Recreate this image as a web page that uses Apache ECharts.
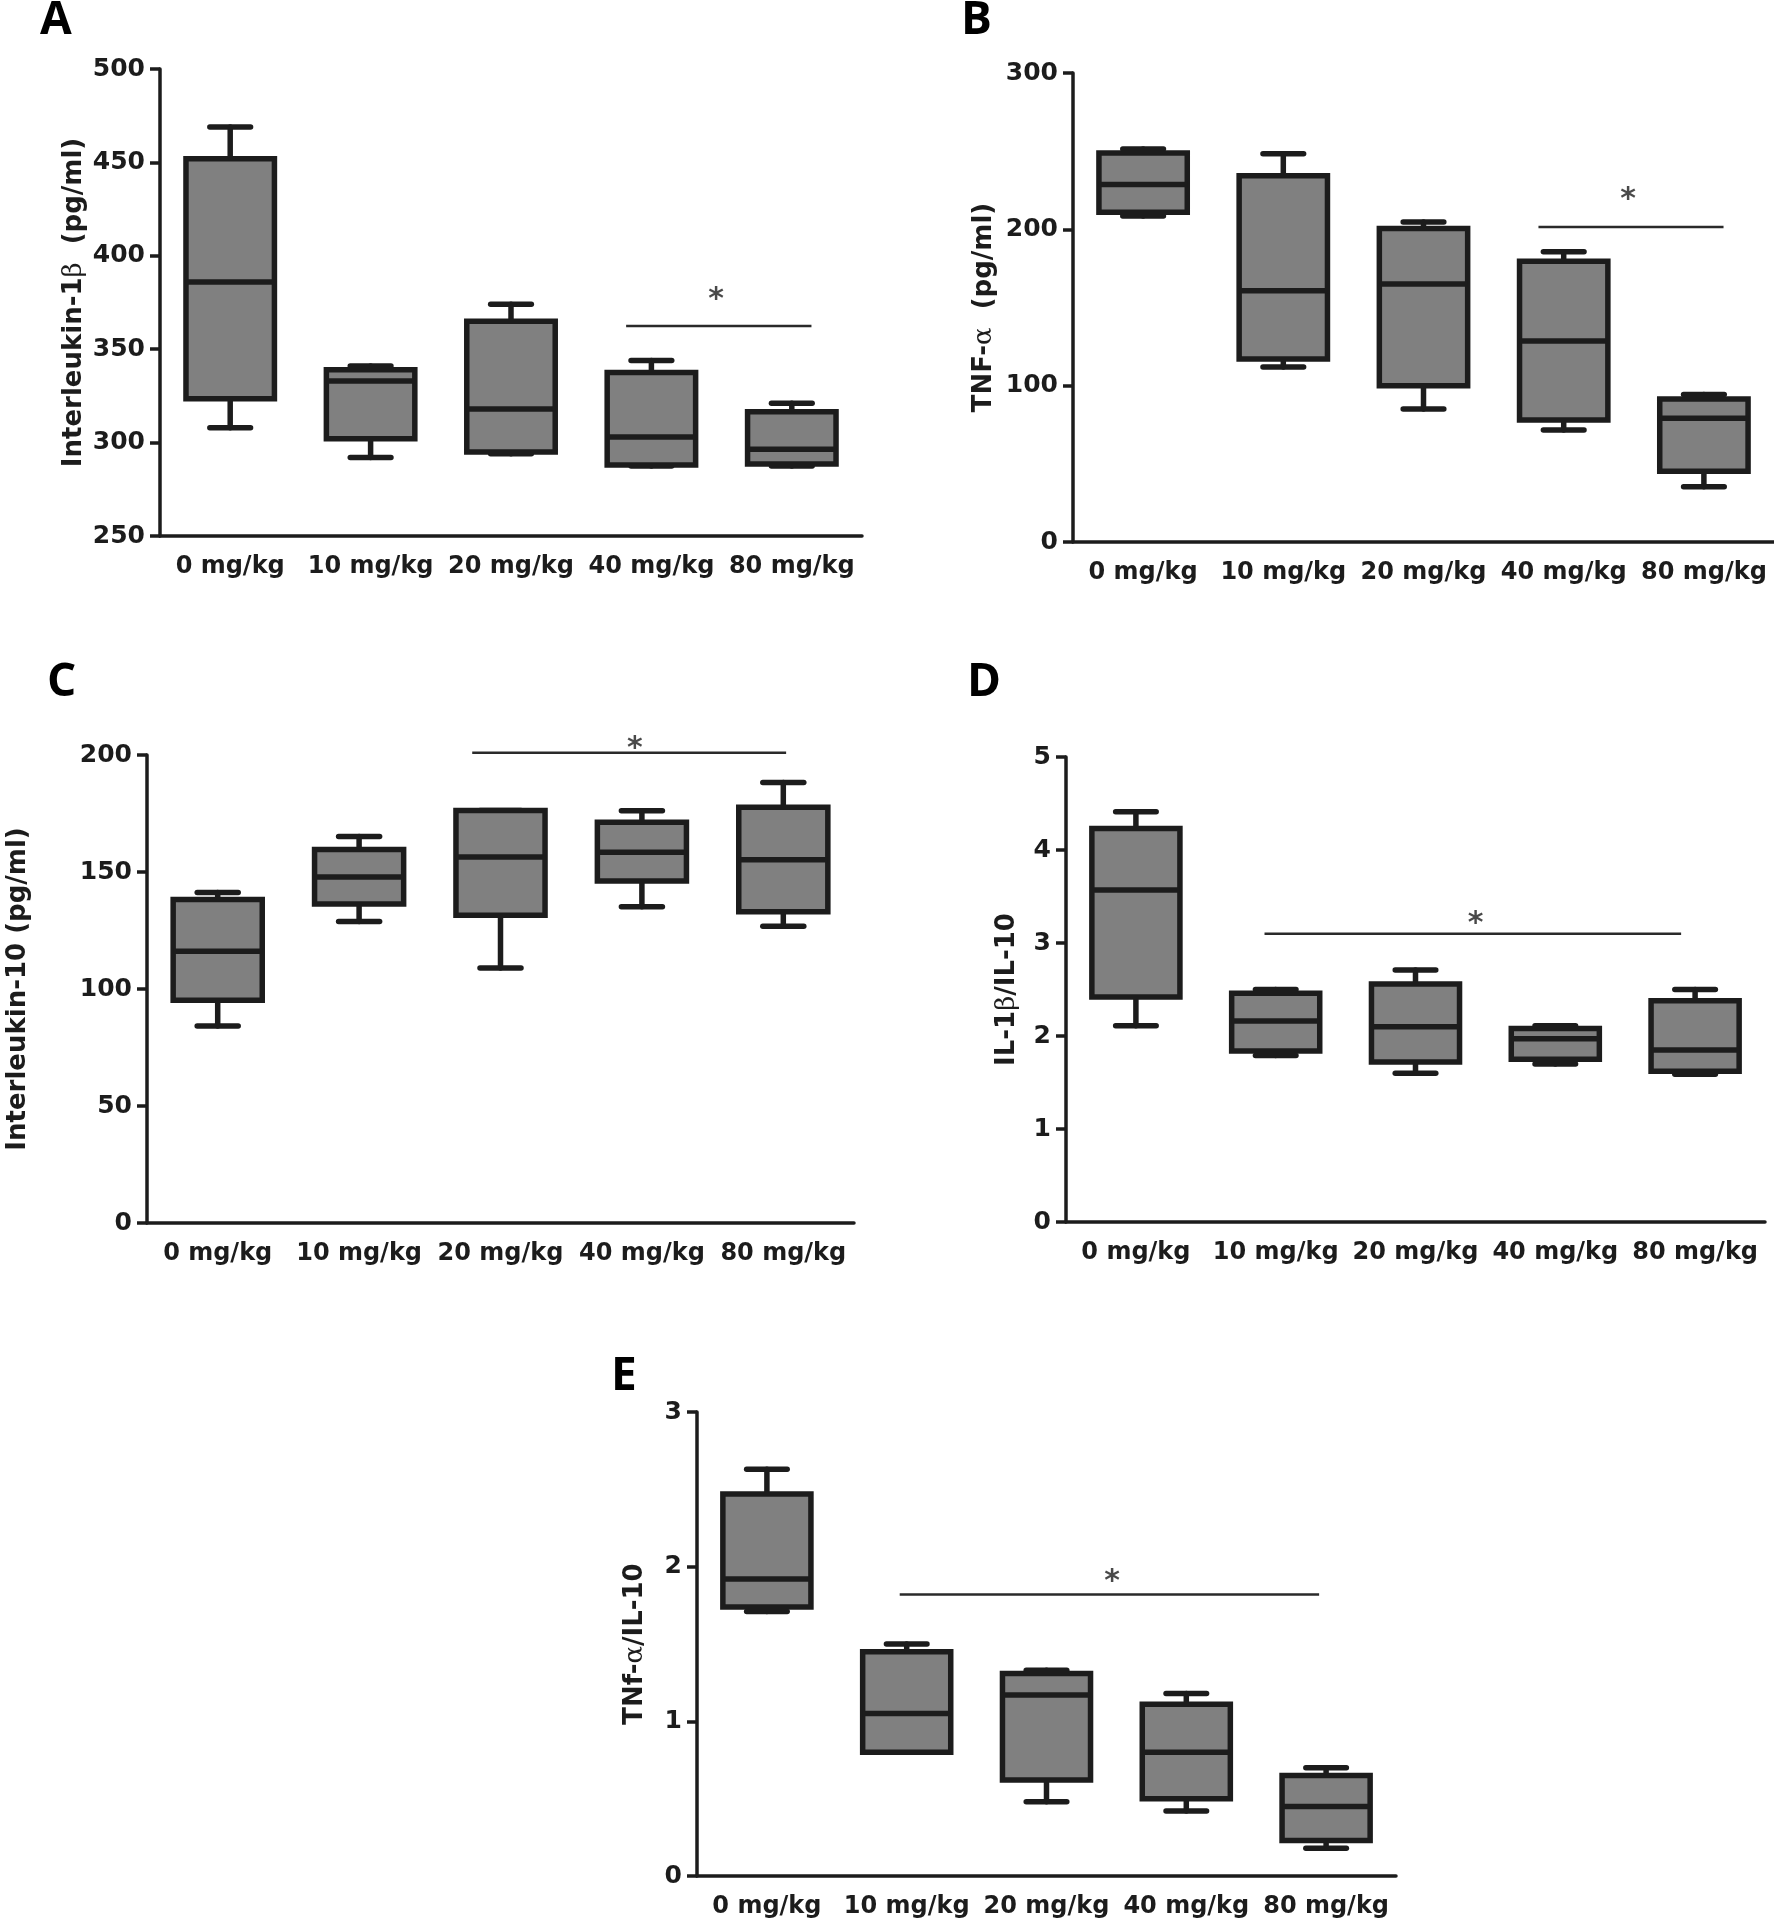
<!DOCTYPE html>
<html>
<head>
<meta charset="utf-8">
<title>Cytokine box plots</title>
<script src="https://cdn.jsdelivr.net/npm/echarts@6.0.0/dist/echarts.min.js"></script>
<style>
    html, body { margin: 0; padding: 0; background: #fff; }
    #main { width: 1774px; height: 1921px; }
</style>
</head>
<body>
<div id="main"></div>
<script>
    var categories = ['0 mg/kg', '10 mg/kg', '20 mg/kg', '40 mg/kg', '80 mg/kg'];

    // each row: [min, Q1, median, Q3, max]
    var il1bValues = [
        [308, 323.5, 386, 452, 469],
        [292, 302, 333, 339, 341],
        [294, 295, 318, 365, 374],
        [287.5, 288, 303, 337.5, 344],
        [287.5, 288.5, 296.5, 316.5, 321]
    ];
    var tnfValues = [
        [208.6, 211, 228.7, 248.9, 251.4],
        [112, 117, 160.7, 234.2, 248.4],
        [85, 100, 165, 200.5, 204.7],
        [71.7, 78, 128.5, 179.6, 185.7],
        [35.4, 45.2, 79.1, 91.4, 94.3]
    ];
    var il10Values = [
        [84.2, 95.2, 116.1, 138.3, 141.2],
        [128.8, 136.3, 147.9, 159.6, 165.2],
        [109, 131.5, 156.4, 176.3, 176.3],
        [135.2, 146.2, 158.4, 171.3, 176.2],
        [126.8, 133, 155.2, 177.7, 188.2]
    ];
    var il1bIl10Values = [
        [2.11, 2.42, 3.57, 4.23, 4.41],
        [1.79, 1.84, 2.16, 2.46, 2.50],
        [1.60, 1.72, 2.10, 2.56, 2.71],
        [1.70, 1.75, 1.97, 2.08, 2.11],
        [1.59, 1.62, 1.85, 2.38, 2.50]
    ];
    var tnfIl10Values = [
        [1.71, 1.74, 1.92, 2.47, 2.63],
        [0.80, 0.80, 1.05, 1.45, 1.50],
        [0.48, 0.62, 1.17, 1.31, 1.33],
        [0.42, 0.50, 0.80, 1.11, 1.18],
        [0.18, 0.23, 0.45, 0.65, 0.70]
    ];

    // y tick labels
    var il1bTicks = [250, 300, 350, 400, 450, 500];
    var tnfTicks = [0, 100, 200, 300];
    var il10Ticks = [0, 50, 100, 150, 200];
    var il1bIl10Ticks = [0, 1, 2, 3, 4, 5];
    var tnfIl10Ticks = [0, 1, 2, 3];

    // significance bar: [from, to, level] in category units, star: [x, y]
    var il1bSig = [2.82, 4.14, 362.4], il1bStar = [3.46, 379.5];
    var tnfSig = [2.82, 4.14, 201.5], tnfStar = [3.46, 222.6];
    var il10Sig = [1.80, 4.02, 201], il10Star = [2.95, 204.9];
    var il1bIl10Sig = [0.92, 3.90, 3.10], il1bIl10Star = [2.43, 3.27];
    var tnfIl10Sig = [0.95, 3.95, 1.82], tnfIl10Star = [2.47, 1.94];

    var ink = '#1c1c1c';
    var font = '"DejaVu Sans", sans-serif';

    var panels = [
        {letter: 'A', values: il1bValues, ticks: il1bTicks, sig: il1bSig, star: il1bStar,
            name: '{b|Interleukin-1}{g|β}{b|  (pg/ml)}', nameGap: 73,
            grid: {left: 160, top: 69, width: 702, height: 467}, letterAt: [40, 21]},
        {letter: 'B', values: tnfValues, ticks: tnfTicks, sig: tnfSig, star: tnfStar,
            name: '{b|TNF-}{g|α}{b|  (pg/ml)}', nameGap: 76,
            grid: {left: 1073, top: 73, width: 701, height: 469}, letterAt: [961, 21]},
        {letter: 'C', values: il10Values, ticks: il10Ticks, sig: il10Sig, star: il10Star,
            name: '{b|Interleukin-10 (pg/ml)}', nameGap: 116,
            grid: {left: 147, top: 755, width: 707, height: 468}, letterAt: [47, 683]},
        {letter: 'D', values: il1bIl10Values, ticks: il1bIl10Ticks, sig: il1bIl10Sig, star: il1bIl10Star,
            name: '{b|IL-1}{g|β}{b|/IL-10}', nameGap: 46,
            grid: {left: 1066, top: 757, width: 699, height: 465}, letterAt: [967, 683]},
        {letter: 'E', values: tnfIl10Values, ticks: tnfIl10Ticks, sig: tnfIl10Sig, star: tnfIl10Star,
            name: '{b|TNf-}{g|α}{b|/IL-10}', nameGap: 49,
            grid: {left: 697, top: 1412, width: 699, height: 464}, letterAt: [611, 1377]}
    ];

    //box, median, whiskers with half-width caps
    function renderBox(params, api) {
        var x = api.value(0);
        var lo = api.coord([x, api.value(1)]);
        var q1 = api.coord([x, api.value(2)]);
        var med = api.coord([x, api.value(3)]);
        var q3 = api.coord([x, api.value(4)]);
        var hi = api.coord([x, api.value(5)]);
        var band = api.size([1, 0])[0];
        var bw = band * 0.63;
        var cw = band * 0.29;
        var cx = q1[0];

        function seg(x1, y1, x2, y2) {
            return {
                type: 'line',
                shape: {x1: x1, y1: y1, x2: x2, y2: y2},
                style: {stroke: ink, lineWidth: 5.5, lineCap: 'round'}
            };
        }

        return {
            type: 'group',
            children: [
                seg(cx, hi[1], cx, q3[1]),
                seg(cx, q1[1], cx, lo[1]),
                seg(cx - cw / 2, hi[1], cx + cw / 2, hi[1]),
                seg(cx - cw / 2, lo[1], cx + cw / 2, lo[1]),
                {
                    type: 'rect',
                    shape: {x: cx - bw / 2, y: q3[1], width: bw, height: q1[1] - q3[1]},
                    style: {fill: '#808080', stroke: ink, lineWidth: 5.5}
                },
                {
                    type: 'line',
                    shape: {x1: cx - bw / 2, y1: med[1], x2: cx + bw / 2, y2: med[1]},
                    style: {stroke: ink, lineWidth: 5.5}
                }
            ]
        };
    }

    var option = {
        animation: false,
        backgroundColor: '#fff',
        textStyle: {fontFamily: font},
        graphic: [],
        grid: [],
        xAxis: [],
        yAxis: [],
        series: []
    };

    panels.forEach(function (p, i) {
        var g = p.grid;
        option.grid.push({
            left: g.left, top: g.top, width: g.width, height: g.height,
            outerBoundsMode: 'none', containLabel: false
        });
        option.xAxis.push({
            type: 'category',
            gridIndex: i,
            data: categories,
            boundaryGap: true,
            axisLine: {onZero: false, lineStyle: {color: ink, width: 3.5}},
            axisTick: {alignWithLabel: true, length: 12, lineStyle: {color: ink, width: 3.5}},
            axisLabel: {interval: 0, margin: 19, color: ink, fontSize: 24, fontWeight: 'bold', fontFamily: font},
            splitLine: {show: false}
        });
        option.xAxis.push({
            type: 'value',
            gridIndex: i,
            min: -0.5,
            max: 4.5,
            show: false
        });
        option.yAxis.push({
            type: 'value',
            gridIndex: i,
            min: p.ticks[0],
            max: p.ticks[p.ticks.length - 1],
            interval: p.ticks[1] - p.ticks[0],
            name: p.name,
            nameLocation: 'middle',
            nameRotate: 90,
            nameGap: p.nameGap,
            nameTextStyle: {
                rich: {
                    b: {fontFamily: font, fontWeight: 'bold', fontSize: 26, color: ink},
                    g: {fontFamily: '"DejaVu Serif", serif', fontWeight: 'normal', fontSize: 26, color: ink}
                }
            },
            axisLine: {show: true, onZero: false, lineStyle: {color: ink, width: 3.5}},
            axisTick: {show: true, length: 10, lineStyle: {color: ink, width: 3.5}},
            axisLabel: {margin: 15, color: ink, fontSize: 25, fontWeight: 'bold', fontFamily: font},
            splitLine: {show: false}
        });

        option.series.push({
            type: 'custom',
            xAxisIndex: 2 * i,
            yAxisIndex: i,
            renderItem: renderBox,
            encode: {x: 0, y: [1, 2, 3, 4, 5]},
            data: p.values.map(function (row, k) {
                return [k].concat(row);
            }),
            silent: true
        });
        option.series.push({
            type: 'line',
            xAxisIndex: 2 * i + 1,
            yAxisIndex: i,
            data: [[p.sig[0], p.sig[2]], [p.sig[1], p.sig[2]]],
            symbol: 'none',
            clip: false,
            silent: true,
            lineStyle: {color: '#2a2a2a', width: 2.5}
        });
        option.series.push({
            type: 'scatter',
            xAxisIndex: 2 * i + 1,
            yAxisIndex: i,
            data: [p.star],
            symbolSize: 1,
            clip: false,
            silent: true,
            itemStyle: {color: 'transparent'},
            label: {
                show: true,
                position: 'inside',
                formatter: '*',
                offset: [0, 6],
                fontSize: 30,
                fontWeight: 'bold',
                color: ink,
                fontFamily: font
            }
        });

        option.graphic.push({
            type: 'text',
            style: {
                x: p.letterAt[0],
                y: p.letterAt[1],
                text: p.letter,
                verticalAlign: 'middle',
                align: 'left',
                font: 'bold 46px "Open Sans", sans-serif',
                fill: '#000'
            }
        });
    });

    var chart = echarts.init(document.getElementById('main'));
    chart.setOption(option);
</script>
</body>
</html>
